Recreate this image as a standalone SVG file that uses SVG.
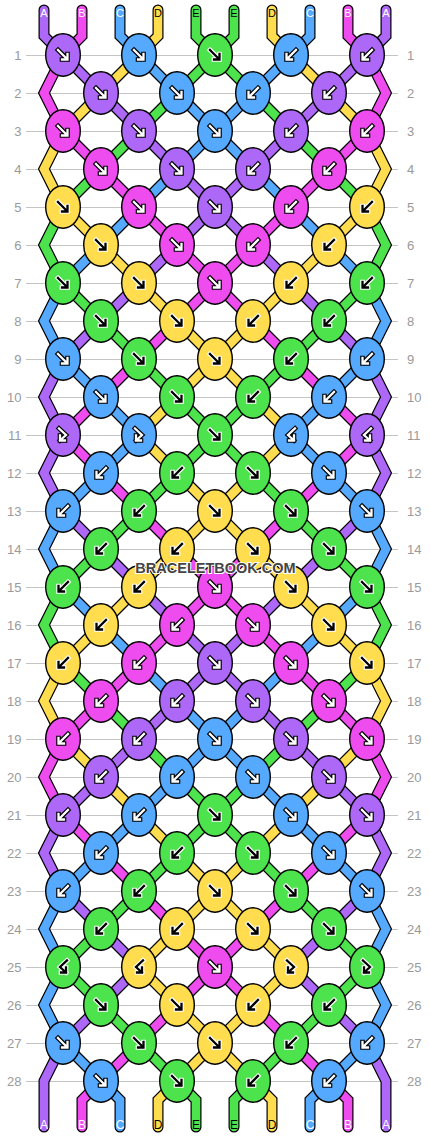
<svg xmlns="http://www.w3.org/2000/svg" xmlns:xlink="http://www.w3.org/1999/xlink" width="430" height="1136" viewBox="0 0 430 1136">
<style>
.grid line{stroke:#c4c4c4;stroke-width:1;shape-rendering:crispEdges}
.lab{font-family:"Liberation Sans",Arial,sans-serif;font-size:13px;fill:#9a9a9a}
.sl{font-family:"Liberation Sans",Arial,sans-serif;text-anchor:middle}
.kA{fill:#AD68F8}.kB{fill:#EE4CEE}.kC{fill:#55AAFF}.kD{fill:#FFDD4F}.kE{fill:#4DE34D}
.wm{font-family:"Liberation Sans",Arial,sans-serif;font-weight:bold;font-size:14.5px;fill:#454545;stroke:#fff;stroke-width:2.2px;paint-order:stroke;text-anchor:middle}
</style>
<defs>
<ellipse id="kn" rx="17.3" ry="21.2" stroke="#000" stroke-width="1.4"/>
<path id="pf" d="M-5,-5L3.5,3.5M-1,4.5H4.5V-1" fill="none"/>
<path id="pb" d="M5,-5L-3.5,3.5M1,4.5H-4.5V-1" fill="none"/>
<path id="pfb" d="M-4,-6.5L3,0L-3,5.5M-3,0.5V5.5H2" fill="none"/>
<path id="pbf" d="M4,-6.5L-3,0L3,5.5M3,0.5V5.5H-2" fill="none"/>
<g id="fW" stroke-linecap="square" stroke-linejoin="miter"><use href="#pf" stroke="#000" stroke-width="4.6"/><use href="#pf" stroke="#fff" stroke-width="2.3"/></g>
<g id="fK" stroke-linecap="square" stroke-linejoin="miter"><use href="#pf" stroke="#fff" stroke-width="4.6"/><use href="#pf" stroke="#000" stroke-width="2.3"/></g>
<g id="bW" stroke-linecap="square" stroke-linejoin="miter"><use href="#pb" stroke="#000" stroke-width="4.6"/><use href="#pb" stroke="#fff" stroke-width="2.3"/></g>
<g id="bK" stroke-linecap="square" stroke-linejoin="miter"><use href="#pb" stroke="#fff" stroke-width="4.6"/><use href="#pb" stroke="#000" stroke-width="2.3"/></g>
<g id="fbW" stroke-linecap="square" stroke-linejoin="miter"><use href="#pfb" stroke="#000" stroke-width="4.6"/><use href="#pfb" stroke="#fff" stroke-width="2.3"/></g>
<g id="fbK" stroke-linecap="square" stroke-linejoin="miter"><use href="#pfb" stroke="#fff" stroke-width="4.6"/><use href="#pfb" stroke="#000" stroke-width="2.3"/></g>
<g id="bfW" stroke-linecap="square" stroke-linejoin="miter"><use href="#pbf" stroke="#000" stroke-width="4.6"/><use href="#pbf" stroke="#fff" stroke-width="2.3"/></g>
<g id="bfK" stroke-linecap="square" stroke-linejoin="miter"><use href="#pbf" stroke="#fff" stroke-width="4.6"/><use href="#pbf" stroke="#000" stroke-width="2.3"/></g>
<polyline id="s0" fill="none" points="44,10 44,36 63,55 101,93 139,131 177,169 215,207 253,245 291,283 329,321 367,359 386,397 367,435 386,473 367,511 329,549 291,587 253,625 215,663 177,701 139,739 101,777 63,815 44,853 63,891 101,929 139,967 101,1005 63,1043 44,1081 44,1127"/>
<polyline id="s1" fill="none" points="82,10 82,36 63,55 44,93 63,131 101,169 139,207 177,245 215,283 253,321 291,359 329,397 367,435 329,473 291,511 253,549 215,587 177,625 139,663 101,701 63,739 44,777 63,815 101,853 139,891 177,929 215,967 253,1005 291,1043 329,1081 348,1100 348,1127"/>
<polyline id="s2" fill="none" points="120,10 120,36 139,55 177,93 215,131 253,169 291,207 329,245 367,283 386,321 367,359 329,397 291,435 329,473 367,511 386,549 367,587 329,625 291,663 253,701 215,739 177,777 139,815 101,853 63,891 44,929 63,967 44,1005 63,1043 101,1081 120,1100 120,1127"/>
<polyline id="s3" fill="none" points="158,10 158,36 139,55 101,93 63,131 44,169 63,207 101,245 139,283 177,321 215,359 253,397 291,435 253,473 215,511 177,549 139,587 101,625 63,663 44,701 63,739 101,777 139,815 177,853 215,891 253,929 291,967 253,1005 215,1043 177,1081 158,1100 158,1127"/>
<polyline id="s4" fill="none" points="196,10 196,36 215,55 253,93 291,131 329,169 367,207 386,245 367,283 329,321 291,359 253,397 215,435 177,473 139,511 101,549 63,587 44,625 63,663 101,701 139,739 177,777 215,815 253,853 291,891 329,929 367,967 329,1005 291,1043 253,1081 234,1100 234,1127"/>
<polyline id="s5" fill="none" points="234,10 234,36 215,55 177,93 139,131 101,169 63,207 44,245 63,283 101,321 139,359 177,397 215,435 253,473 291,511 329,549 367,587 386,625 367,663 329,701 291,739 253,777 215,815 177,853 139,891 101,929 63,967 101,1005 139,1043 177,1081 196,1100 196,1127"/>
<polyline id="s6" fill="none" points="272,10 272,36 291,55 329,93 367,131 386,169 367,207 329,245 291,283 253,321 215,359 177,397 139,435 177,473 215,511 253,549 291,587 329,625 367,663 386,701 367,739 329,777 291,815 253,853 215,891 177,929 139,967 177,1005 215,1043 253,1081 272,1100 272,1127"/>
<polyline id="s7" fill="none" points="310,10 310,36 291,55 253,93 215,131 177,169 139,207 101,245 63,283 44,321 63,359 101,397 139,435 101,473 63,511 44,549 63,587 101,625 139,663 177,701 215,739 253,777 291,815 329,853 367,891 386,929 367,967 386,1005 367,1043 329,1081 310,1100 310,1127"/>
<polyline id="s8" fill="none" points="348,10 348,36 367,55 386,93 367,131 329,169 291,207 253,245 215,283 177,321 139,359 101,397 63,435 101,473 139,511 177,549 215,587 253,625 291,663 329,701 367,739 386,777 367,815 329,853 291,891 253,929 215,967 177,1005 139,1043 101,1081 82,1100 82,1127"/>
<polyline id="s9" fill="none" points="386,10 386,36 367,55 329,93 291,131 253,169 215,207 177,245 139,283 101,321 63,359 44,397 63,435 44,473 63,511 101,549 139,587 177,625 215,663 253,701 291,739 329,777 367,815 386,853 367,891 329,929 291,967 329,1005 367,1043 386,1081 386,1127"/>
</defs>
<rect width="430" height="1136" fill="#fff"/>
<g class="grid">
<line x1="26" y1="55" x2="398" y2="55"/><line x1="26" y1="93" x2="398" y2="93"/><line x1="26" y1="131" x2="398" y2="131"/><line x1="26" y1="169" x2="398" y2="169"/><line x1="26" y1="207" x2="398" y2="207"/><line x1="26" y1="245" x2="398" y2="245"/><line x1="26" y1="283" x2="398" y2="283"/><line x1="26" y1="321" x2="398" y2="321"/><line x1="26" y1="359" x2="398" y2="359"/><line x1="26" y1="397" x2="398" y2="397"/><line x1="26" y1="435" x2="398" y2="435"/><line x1="26" y1="473" x2="398" y2="473"/><line x1="26" y1="511" x2="398" y2="511"/><line x1="26" y1="549" x2="398" y2="549"/><line x1="26" y1="587" x2="398" y2="587"/><line x1="26" y1="625" x2="398" y2="625"/><line x1="26" y1="663" x2="398" y2="663"/><line x1="26" y1="701" x2="398" y2="701"/><line x1="26" y1="739" x2="398" y2="739"/><line x1="26" y1="777" x2="398" y2="777"/><line x1="26" y1="815" x2="398" y2="815"/><line x1="26" y1="853" x2="398" y2="853"/><line x1="26" y1="891" x2="398" y2="891"/><line x1="26" y1="929" x2="398" y2="929"/><line x1="26" y1="967" x2="398" y2="967"/><line x1="26" y1="1005" x2="398" y2="1005"/><line x1="26" y1="1043" x2="398" y2="1043"/><line x1="26" y1="1081" x2="398" y2="1081"/>
</g>
<g class="lab" text-anchor="end">
<text x="21.5" y="59.5">1</text><text x="21.5" y="97.5">2</text><text x="21.5" y="135.5">3</text><text x="21.5" y="173.5">4</text><text x="21.5" y="211.5">5</text><text x="21.5" y="249.5">6</text><text x="21.5" y="287.5">7</text><text x="21.5" y="325.5">8</text><text x="21.5" y="363.5">9</text><text x="21.5" y="401.5">10</text><text x="21.5" y="439.5">11</text><text x="21.5" y="477.5">12</text><text x="21.5" y="515.5">13</text><text x="21.5" y="553.5">14</text><text x="21.5" y="591.5">15</text><text x="21.5" y="629.5">16</text><text x="21.5" y="667.5">17</text><text x="21.5" y="705.5">18</text><text x="21.5" y="743.5">19</text><text x="21.5" y="781.5">20</text><text x="21.5" y="819.5">21</text><text x="21.5" y="857.5">22</text><text x="21.5" y="895.5">23</text><text x="21.5" y="933.5">24</text><text x="21.5" y="971.5">25</text><text x="21.5" y="1009.5">26</text><text x="21.5" y="1047.5">27</text><text x="21.5" y="1085.5">28</text>
</g>
<g class="lab">
<text x="407" y="59.5">1</text><text x="407" y="97.5">2</text><text x="407" y="135.5">3</text><text x="407" y="173.5">4</text><text x="407" y="211.5">5</text><text x="407" y="249.5">6</text><text x="407" y="287.5">7</text><text x="407" y="325.5">8</text><text x="407" y="363.5">9</text><text x="407" y="401.5">10</text><text x="407" y="439.5">11</text><text x="407" y="477.5">12</text><text x="407" y="515.5">13</text><text x="407" y="553.5">14</text><text x="407" y="591.5">15</text><text x="407" y="629.5">16</text><text x="407" y="667.5">17</text><text x="407" y="705.5">18</text><text x="407" y="743.5">19</text><text x="407" y="781.5">20</text><text x="407" y="819.5">21</text><text x="407" y="857.5">22</text><text x="407" y="895.5">23</text><text x="407" y="933.5">24</text><text x="407" y="971.5">25</text><text x="407" y="1009.5">26</text><text x="407" y="1047.5">27</text><text x="407" y="1085.5">28</text>
</g>
<g id="connectors" fill="none" stroke-linejoin="miter" stroke-linecap="round">
<g stroke="#000" stroke-width="11">
<use href="#s0"/><use href="#s1"/><use href="#s2"/><use href="#s3"/><use href="#s4"/><use href="#s5"/><use href="#s6"/><use href="#s7"/><use href="#s8"/><use href="#s9"/>
</g>
<g stroke-width="8.6">
<use href="#s0" stroke="#AD68F8"/><use href="#s1" stroke="#EE4CEE"/><use href="#s2" stroke="#55AAFF"/><use href="#s3" stroke="#FFDD4F"/><use href="#s4" stroke="#4DE34D"/><use href="#s5" stroke="#4DE34D"/><use href="#s6" stroke="#FFDD4F"/><use href="#s7" stroke="#55AAFF"/><use href="#s8" stroke="#EE4CEE"/><use href="#s9" stroke="#AD68F8"/>
</g>
</g>
<g id="string-labels" class="sl">
<g font-size="11">
<text x="44" y="16.5" fill="#fff">A</text><text x="82" y="16.5" fill="#fff">B</text><text x="120" y="16.5" fill="#fff">C</text><text x="158" y="16.5" fill="#000">D</text><text x="196" y="16.5" fill="#000">E</text><text x="234" y="16.5" fill="#000">E</text><text x="272" y="16.5" fill="#000">D</text><text x="310" y="16.5" fill="#fff">C</text><text x="348" y="16.5" fill="#fff">B</text><text x="386" y="16.5" fill="#fff">A</text>
</g>
<g font-size="12">
<text x="44" y="1129" fill="#fff">A</text><text x="82" y="1129" fill="#fff">B</text><text x="120" y="1129" fill="#fff">C</text><text x="158" y="1129" fill="#000">D</text><text x="196" y="1129" fill="#000">E</text><text x="234" y="1129" fill="#000">E</text><text x="272" y="1129" fill="#000">D</text><text x="310" y="1129" fill="#fff">C</text><text x="348" y="1129" fill="#fff">B</text><text x="386" y="1129" fill="#fff">A</text>
</g>
</g>
<g id="knots">
<g id="k1-1" transform="translate(63,55)"><use href="#kn" class="kA"/><use href="#fW"/></g>
<g id="k1-2" transform="translate(139,55)"><use href="#kn" class="kC"/><use href="#fW"/></g>
<g id="k1-3" transform="translate(215,55)"><use href="#kn" class="kE"/><use href="#fK"/></g>
<g id="k1-4" transform="translate(291,55)"><use href="#kn" class="kC"/><use href="#bW"/></g>
<g id="k1-5" transform="translate(367,55)"><use href="#kn" class="kA"/><use href="#bW"/></g>
<g id="k2-1" transform="translate(101,93)"><use href="#kn" class="kA"/><use href="#fW"/></g>
<g id="k2-2" transform="translate(177,93)"><use href="#kn" class="kC"/><use href="#fW"/></g>
<g id="k2-3" transform="translate(253,93)"><use href="#kn" class="kC"/><use href="#bW"/></g>
<g id="k2-4" transform="translate(329,93)"><use href="#kn" class="kA"/><use href="#bW"/></g>
<g id="k3-1" transform="translate(63,131)"><use href="#kn" class="kB"/><use href="#fW"/></g>
<g id="k3-2" transform="translate(139,131)"><use href="#kn" class="kA"/><use href="#fW"/></g>
<g id="k3-3" transform="translate(215,131)"><use href="#kn" class="kC"/><use href="#fW"/></g>
<g id="k3-4" transform="translate(291,131)"><use href="#kn" class="kA"/><use href="#bW"/></g>
<g id="k3-5" transform="translate(367,131)"><use href="#kn" class="kB"/><use href="#bW"/></g>
<g id="k4-1" transform="translate(101,169)"><use href="#kn" class="kB"/><use href="#fW"/></g>
<g id="k4-2" transform="translate(177,169)"><use href="#kn" class="kA"/><use href="#fW"/></g>
<g id="k4-3" transform="translate(253,169)"><use href="#kn" class="kA"/><use href="#bW"/></g>
<g id="k4-4" transform="translate(329,169)"><use href="#kn" class="kB"/><use href="#bW"/></g>
<g id="k5-1" transform="translate(63,207)"><use href="#kn" class="kD"/><use href="#fK"/></g>
<g id="k5-2" transform="translate(139,207)"><use href="#kn" class="kB"/><use href="#fW"/></g>
<g id="k5-3" transform="translate(215,207)"><use href="#kn" class="kA"/><use href="#fW"/></g>
<g id="k5-4" transform="translate(291,207)"><use href="#kn" class="kB"/><use href="#bW"/></g>
<g id="k5-5" transform="translate(367,207)"><use href="#kn" class="kD"/><use href="#bK"/></g>
<g id="k6-1" transform="translate(101,245)"><use href="#kn" class="kD"/><use href="#fK"/></g>
<g id="k6-2" transform="translate(177,245)"><use href="#kn" class="kB"/><use href="#fW"/></g>
<g id="k6-3" transform="translate(253,245)"><use href="#kn" class="kB"/><use href="#bW"/></g>
<g id="k6-4" transform="translate(329,245)"><use href="#kn" class="kD"/><use href="#bK"/></g>
<g id="k7-1" transform="translate(63,283)"><use href="#kn" class="kE"/><use href="#fK"/></g>
<g id="k7-2" transform="translate(139,283)"><use href="#kn" class="kD"/><use href="#fK"/></g>
<g id="k7-3" transform="translate(215,283)"><use href="#kn" class="kB"/><use href="#fW"/></g>
<g id="k7-4" transform="translate(291,283)"><use href="#kn" class="kD"/><use href="#bK"/></g>
<g id="k7-5" transform="translate(367,283)"><use href="#kn" class="kE"/><use href="#bK"/></g>
<g id="k8-1" transform="translate(101,321)"><use href="#kn" class="kE"/><use href="#fK"/></g>
<g id="k8-2" transform="translate(177,321)"><use href="#kn" class="kD"/><use href="#fK"/></g>
<g id="k8-3" transform="translate(253,321)"><use href="#kn" class="kD"/><use href="#bK"/></g>
<g id="k8-4" transform="translate(329,321)"><use href="#kn" class="kE"/><use href="#bK"/></g>
<g id="k9-1" transform="translate(63,359)"><use href="#kn" class="kC"/><use href="#fW"/></g>
<g id="k9-2" transform="translate(139,359)"><use href="#kn" class="kE"/><use href="#fK"/></g>
<g id="k9-3" transform="translate(215,359)"><use href="#kn" class="kD"/><use href="#fK"/></g>
<g id="k9-4" transform="translate(291,359)"><use href="#kn" class="kE"/><use href="#bK"/></g>
<g id="k9-5" transform="translate(367,359)"><use href="#kn" class="kC"/><use href="#bW"/></g>
<g id="k10-1" transform="translate(101,397)"><use href="#kn" class="kC"/><use href="#fW"/></g>
<g id="k10-2" transform="translate(177,397)"><use href="#kn" class="kE"/><use href="#fK"/></g>
<g id="k10-3" transform="translate(253,397)"><use href="#kn" class="kE"/><use href="#bK"/></g>
<g id="k10-4" transform="translate(329,397)"><use href="#kn" class="kC"/><use href="#bW"/></g>
<g id="k11-1" transform="translate(63,435)"><use href="#kn" class="kA"/><use href="#fbW"/></g>
<g id="k11-2" transform="translate(139,435)"><use href="#kn" class="kC"/><use href="#fbW"/></g>
<g id="k11-3" transform="translate(215,435)"><use href="#kn" class="kE"/><use href="#fK"/></g>
<g id="k11-4" transform="translate(291,435)"><use href="#kn" class="kC"/><use href="#bfW"/></g>
<g id="k11-5" transform="translate(367,435)"><use href="#kn" class="kA"/><use href="#bfW"/></g>
<g id="k12-1" transform="translate(101,473)"><use href="#kn" class="kC"/><use href="#bW"/></g>
<g id="k12-2" transform="translate(177,473)"><use href="#kn" class="kE"/><use href="#bK"/></g>
<g id="k12-3" transform="translate(253,473)"><use href="#kn" class="kE"/><use href="#fK"/></g>
<g id="k12-4" transform="translate(329,473)"><use href="#kn" class="kC"/><use href="#fW"/></g>
<g id="k13-1" transform="translate(63,511)"><use href="#kn" class="kC"/><use href="#bW"/></g>
<g id="k13-2" transform="translate(139,511)"><use href="#kn" class="kE"/><use href="#bK"/></g>
<g id="k13-3" transform="translate(215,511)"><use href="#kn" class="kD"/><use href="#fK"/></g>
<g id="k13-4" transform="translate(291,511)"><use href="#kn" class="kE"/><use href="#fK"/></g>
<g id="k13-5" transform="translate(367,511)"><use href="#kn" class="kC"/><use href="#fW"/></g>
<g id="k14-1" transform="translate(101,549)"><use href="#kn" class="kE"/><use href="#bK"/></g>
<g id="k14-2" transform="translate(177,549)"><use href="#kn" class="kD"/><use href="#bK"/></g>
<g id="k14-3" transform="translate(253,549)"><use href="#kn" class="kD"/><use href="#fK"/></g>
<g id="k14-4" transform="translate(329,549)"><use href="#kn" class="kE"/><use href="#fK"/></g>
<g id="k15-1" transform="translate(63,587)"><use href="#kn" class="kE"/><use href="#bK"/></g>
<g id="k15-2" transform="translate(139,587)"><use href="#kn" class="kD"/><use href="#bK"/></g>
<g id="k15-3" transform="translate(215,587)"><use href="#kn" class="kB"/><use href="#fW"/></g>
<g id="k15-4" transform="translate(291,587)"><use href="#kn" class="kD"/><use href="#fK"/></g>
<g id="k15-5" transform="translate(367,587)"><use href="#kn" class="kE"/><use href="#fK"/></g>
<g id="k16-1" transform="translate(101,625)"><use href="#kn" class="kD"/><use href="#bK"/></g>
<g id="k16-2" transform="translate(177,625)"><use href="#kn" class="kB"/><use href="#bW"/></g>
<g id="k16-3" transform="translate(253,625)"><use href="#kn" class="kB"/><use href="#fW"/></g>
<g id="k16-4" transform="translate(329,625)"><use href="#kn" class="kD"/><use href="#fK"/></g>
<g id="k17-1" transform="translate(63,663)"><use href="#kn" class="kD"/><use href="#bK"/></g>
<g id="k17-2" transform="translate(139,663)"><use href="#kn" class="kB"/><use href="#bW"/></g>
<g id="k17-3" transform="translate(215,663)"><use href="#kn" class="kA"/><use href="#fW"/></g>
<g id="k17-4" transform="translate(291,663)"><use href="#kn" class="kB"/><use href="#fW"/></g>
<g id="k17-5" transform="translate(367,663)"><use href="#kn" class="kD"/><use href="#fK"/></g>
<g id="k18-1" transform="translate(101,701)"><use href="#kn" class="kB"/><use href="#bW"/></g>
<g id="k18-2" transform="translate(177,701)"><use href="#kn" class="kA"/><use href="#bW"/></g>
<g id="k18-3" transform="translate(253,701)"><use href="#kn" class="kA"/><use href="#fW"/></g>
<g id="k18-4" transform="translate(329,701)"><use href="#kn" class="kB"/><use href="#fW"/></g>
<g id="k19-1" transform="translate(63,739)"><use href="#kn" class="kB"/><use href="#bW"/></g>
<g id="k19-2" transform="translate(139,739)"><use href="#kn" class="kA"/><use href="#bW"/></g>
<g id="k19-3" transform="translate(215,739)"><use href="#kn" class="kC"/><use href="#fW"/></g>
<g id="k19-4" transform="translate(291,739)"><use href="#kn" class="kA"/><use href="#fW"/></g>
<g id="k19-5" transform="translate(367,739)"><use href="#kn" class="kB"/><use href="#fW"/></g>
<g id="k20-1" transform="translate(101,777)"><use href="#kn" class="kA"/><use href="#bW"/></g>
<g id="k20-2" transform="translate(177,777)"><use href="#kn" class="kC"/><use href="#bW"/></g>
<g id="k20-3" transform="translate(253,777)"><use href="#kn" class="kC"/><use href="#fW"/></g>
<g id="k20-4" transform="translate(329,777)"><use href="#kn" class="kA"/><use href="#fW"/></g>
<g id="k21-1" transform="translate(63,815)"><use href="#kn" class="kA"/><use href="#bW"/></g>
<g id="k21-2" transform="translate(139,815)"><use href="#kn" class="kC"/><use href="#bW"/></g>
<g id="k21-3" transform="translate(215,815)"><use href="#kn" class="kE"/><use href="#fK"/></g>
<g id="k21-4" transform="translate(291,815)"><use href="#kn" class="kC"/><use href="#fW"/></g>
<g id="k21-5" transform="translate(367,815)"><use href="#kn" class="kA"/><use href="#fW"/></g>
<g id="k22-1" transform="translate(101,853)"><use href="#kn" class="kC"/><use href="#bW"/></g>
<g id="k22-2" transform="translate(177,853)"><use href="#kn" class="kE"/><use href="#bK"/></g>
<g id="k22-3" transform="translate(253,853)"><use href="#kn" class="kE"/><use href="#fK"/></g>
<g id="k22-4" transform="translate(329,853)"><use href="#kn" class="kC"/><use href="#fW"/></g>
<g id="k23-1" transform="translate(63,891)"><use href="#kn" class="kC"/><use href="#bW"/></g>
<g id="k23-2" transform="translate(139,891)"><use href="#kn" class="kE"/><use href="#bK"/></g>
<g id="k23-3" transform="translate(215,891)"><use href="#kn" class="kD"/><use href="#fK"/></g>
<g id="k23-4" transform="translate(291,891)"><use href="#kn" class="kE"/><use href="#fK"/></g>
<g id="k23-5" transform="translate(367,891)"><use href="#kn" class="kC"/><use href="#fW"/></g>
<g id="k24-1" transform="translate(101,929)"><use href="#kn" class="kE"/><use href="#bK"/></g>
<g id="k24-2" transform="translate(177,929)"><use href="#kn" class="kD"/><use href="#bK"/></g>
<g id="k24-3" transform="translate(253,929)"><use href="#kn" class="kD"/><use href="#fK"/></g>
<g id="k24-4" transform="translate(329,929)"><use href="#kn" class="kE"/><use href="#fK"/></g>
<g id="k25-1" transform="translate(63,967)"><use href="#kn" class="kE"/><use href="#bfK"/></g>
<g id="k25-2" transform="translate(139,967)"><use href="#kn" class="kD"/><use href="#bfK"/></g>
<g id="k25-3" transform="translate(215,967)"><use href="#kn" class="kB"/><use href="#fW"/></g>
<g id="k25-4" transform="translate(291,967)"><use href="#kn" class="kD"/><use href="#fbK"/></g>
<g id="k25-5" transform="translate(367,967)"><use href="#kn" class="kE"/><use href="#fbK"/></g>
<g id="k26-1" transform="translate(101,1005)"><use href="#kn" class="kE"/><use href="#fK"/></g>
<g id="k26-2" transform="translate(177,1005)"><use href="#kn" class="kD"/><use href="#fK"/></g>
<g id="k26-3" transform="translate(253,1005)"><use href="#kn" class="kD"/><use href="#bK"/></g>
<g id="k26-4" transform="translate(329,1005)"><use href="#kn" class="kE"/><use href="#bK"/></g>
<g id="k27-1" transform="translate(63,1043)"><use href="#kn" class="kC"/><use href="#fW"/></g>
<g id="k27-2" transform="translate(139,1043)"><use href="#kn" class="kE"/><use href="#fK"/></g>
<g id="k27-3" transform="translate(215,1043)"><use href="#kn" class="kD"/><use href="#fK"/></g>
<g id="k27-4" transform="translate(291,1043)"><use href="#kn" class="kE"/><use href="#bK"/></g>
<g id="k27-5" transform="translate(367,1043)"><use href="#kn" class="kC"/><use href="#bW"/></g>
<g id="k28-1" transform="translate(101,1081)"><use href="#kn" class="kC"/><use href="#fW"/></g>
<g id="k28-2" transform="translate(177,1081)"><use href="#kn" class="kE"/><use href="#fK"/></g>
<g id="k28-3" transform="translate(253,1081)"><use href="#kn" class="kE"/><use href="#bK"/></g>
<g id="k28-4" transform="translate(329,1081)"><use href="#kn" class="kC"/><use href="#bW"/></g>
</g>
<text class="wm" x="215.5" y="573">BRACELETBOOK.COM</text>
</svg>
